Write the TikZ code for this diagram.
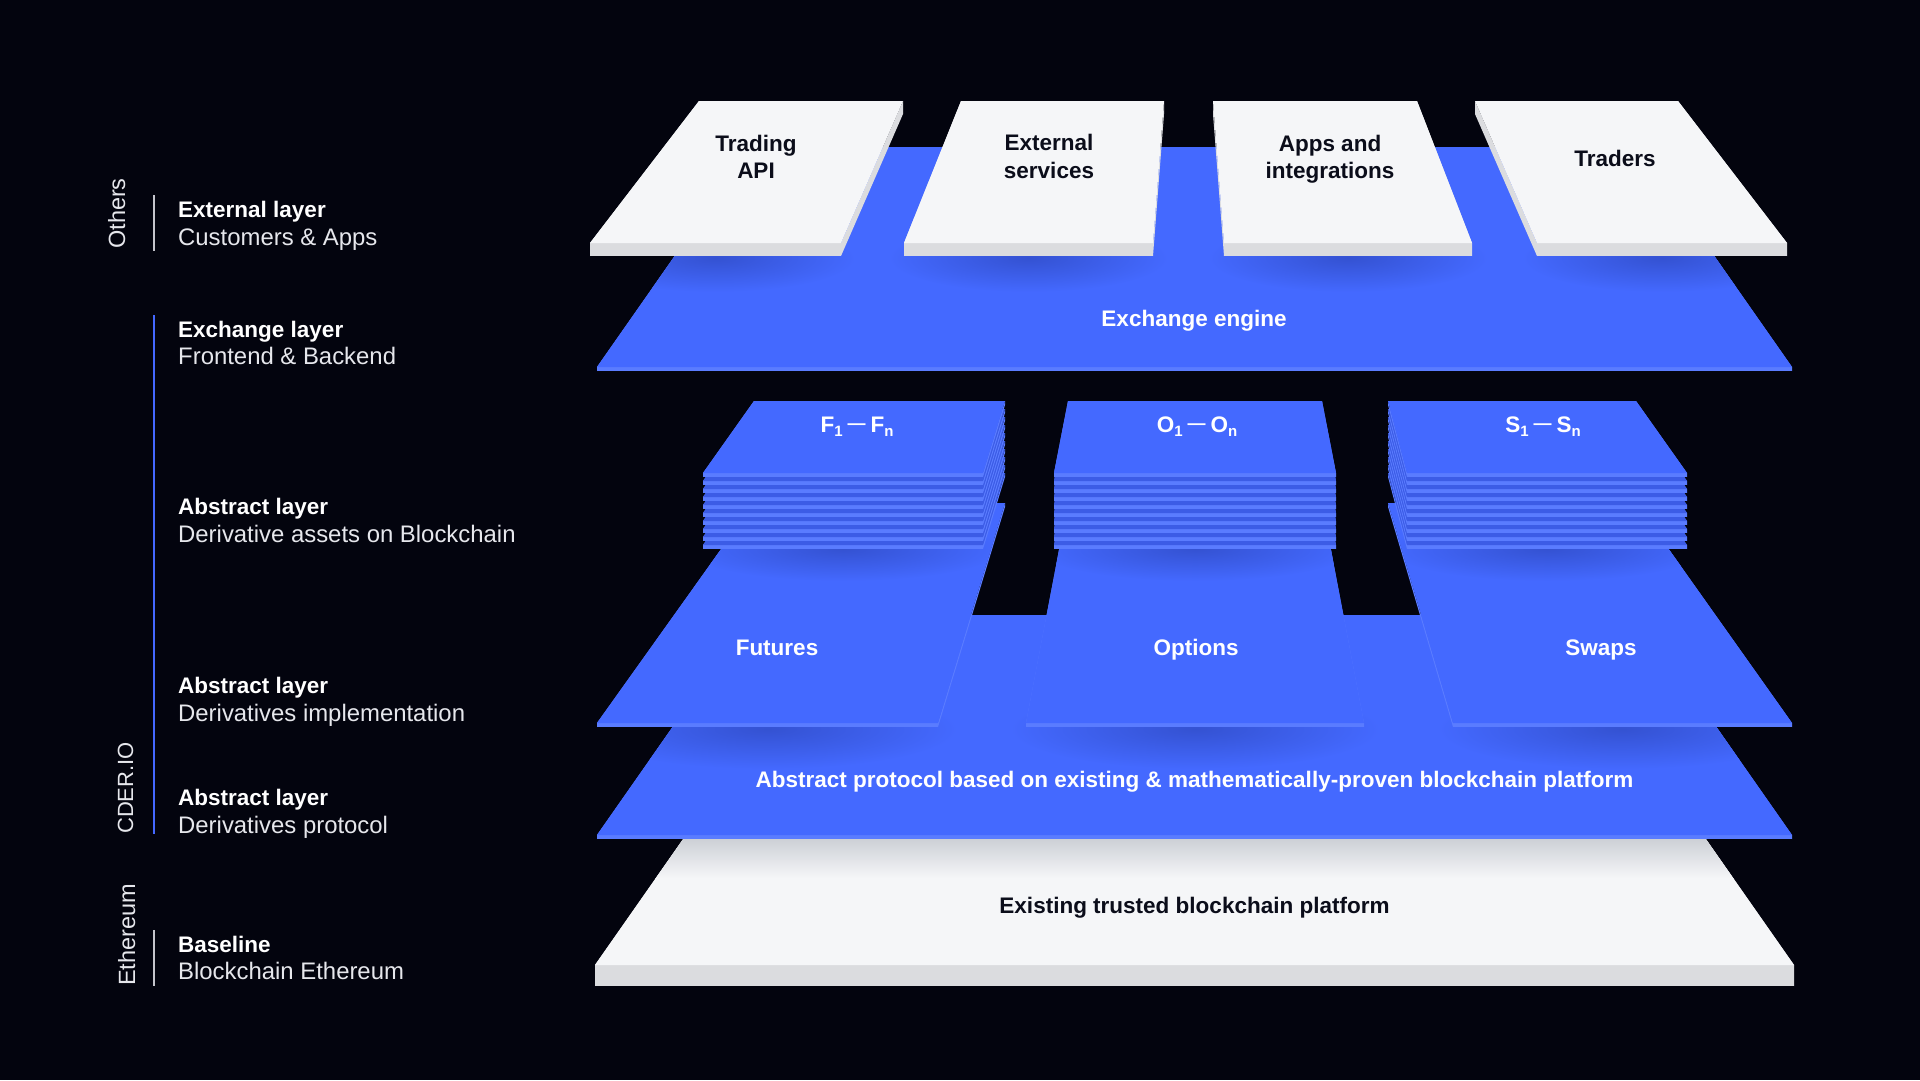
\documentclass[tikz,border=0pt]{standalone}
\usepackage{fontspec}
\setmainfont{Liberation Sans}
\definecolor{bgc}{HTML}{03040E}
\definecolor{planeblue}{HTML}{4469FF}
\definecolor{edgeblue}{HTML}{5A7CFF}
\definecolor{gapblue}{HTML}{3C5CE6}
\definecolor{shadeblue}{HTML}{3452D2}
\definecolor{cardface}{HTML}{F5F6F8}
\definecolor{cardfront}{HTML}{DBDCDF}
\definecolor{cardshade}{HTML}{CDD0D6}
\definecolor{ink}{HTML}{0B0D1A}
\definecolor{soft}{HTML}{E6E7EC}
\definecolor{linegrey}{HTML}{C4C5CC}
\definecolor{lineblue}{HTML}{4468FF}

% slab: #1 ytop, #2 ybot, #3 tlx, #4 trx, #5 brx, #6 blx, #7 thickness, #8 face colour, #9 edge colour
\newcommand\slab[9]{%
  \fill[#9] (#6,#2) -- (#5,#2) -- (#5,#2+#7) -- (#6,#2+#7) -- cycle;
  \fill[#9] (#5,#2) -- (#4,#1) -- (#4,#1+#7) -- (#5,#2+#7) -- cycle;
  \fill[#9] (#6,#2) -- (#3,#1) -- (#3,#1+#7) -- (#6,#2+#7) -- cycle;
  \fill[#8] (#3,#1) -- (#4,#1) -- (#5,#2) -- (#6,#2) -- cycle;
}
\newcommand\subidx[1]{\raisebox{-4.5pt}{\fontsize{15}{15}\selectfont #1}}
\newcommand\dashsep{\hspace{5pt}\raisebox{2.5pt}{\fontsize{18}{18}\selectfont —}\hspace{5pt}}

\tikzset{
  cardtxt/.style={font=\fontsize{22.5}{27.5}\selectfont\bfseries, text=ink, align=center, inner sep=0pt},
  bluetxt/.style={font=\fontsize{22.5}{27}\selectfont\bfseries, text=white, inner sep=0pt, anchor=base},
  greytxt/.style={font=\fontsize{22.5}{27}\selectfont\bfseries, text=ink, inner sep=0pt, anchor=base},
  headtxt/.style={font=\fontsize{22.5}{27}\selectfont\bfseries, text=white, inner sep=0pt, anchor=base west},
  subtxt/.style={font=\fontsize{23.9}{27}\selectfont, text=soft, inner sep=0pt, anchor=base west},
  sidetxt/.style={font=\fontsize{23.5}{27}\selectfont, text=soft, inner sep=0pt, rotate=90, anchor=base west},
  grpline/.style={line width=2pt},
  softshadow/.style={inner color=shadeblue, outer color=planeblue},
}

\begin{document}
\begin{tikzpicture}[x=1pt, y=-1pt]
\useasboundingbox (0,0) rectangle (1920,1080);
\fill[bgc] (0,0) rectangle (1920,1080);

% ---------- baseline white platform ----------
\slab{745}{965}{749}{1640}{1794}{595}{21}{cardface}{cardfront}
\begin{scope}
  \clip (749,745) -- (1640,745) -- (1794,965) -- (595,965) -- cycle;
  \shade[top color=cardshade, bottom color=cardface] (590,839) rectangle (1800,878);
\end{scope}

% ---------- abstract protocol plane ----------
\slab{615}{835}{751}{1638}{1792}{597}{4}{planeblue}{edgeblue}
\begin{scope}
  \clip (751,615) -- (1638,615) -- (1792,835) -- (597,835) -- cycle;
  \shade[softshadow] (767.5,729) ellipse [x radius=190, y radius=40];
  \shade[softshadow] (1195,729) ellipse [x radius=185, y radius=40];
  \shade[softshadow] (1622.5,729) ellipse [x radius=185, y radius=40];
\end{scope}

% ---------- derivative plates ----------
\slab{503}{723}{754}{1005}{938}{597}{4}{planeblue}{edgeblue}
\slab{503}{723}{1068}{1322}{1364}{1026}{4}{planeblue}{edgeblue}
\slab{503}{723}{1388}{1636}{1792}{1453}{4}{planeblue}{edgeblue}
\begin{scope}
  \clip (754,503) -- (1005,503) -- (938,723) -- (597,723) -- cycle;
  \shade[softshadow] (843,549) ellipse [x radius=160, y radius=32];
\end{scope}
\begin{scope}
  \clip (1068,503) -- (1322,503) -- (1364,723) -- (1026,723) -- cycle;
  \shade[softshadow] (1195,549) ellipse [x radius=160, y radius=32];
\end{scope}
\begin{scope}
  \clip (1388,503) -- (1636,503) -- (1792,723) -- (1453,723) -- cycle;
  \shade[softshadow] (1547,549) ellipse [x radius=160, y radius=32];
\end{scope}

% ---------- stacks of derivative assets ----------
\foreach \k in {9,8,...,1}{%
  \slab{401+8*\k}{473+8*\k}{754}{1005}{983}{703}{4}{gapblue}{edgeblue}
  \slab{401+8*\k}{473+8*\k}{1068}{1322}{1336}{1054}{4}{gapblue}{edgeblue}
  \slab{401+8*\k}{473+8*\k}{1388}{1636}{1687}{1407}{4}{gapblue}{edgeblue}
}
\slab{401}{473}{754}{1005}{983}{703}{4}{planeblue}{edgeblue}
\slab{401}{473}{1068}{1322}{1336}{1054}{4}{planeblue}{edgeblue}
\slab{401}{473}{1388}{1636}{1687}{1407}{4}{planeblue}{edgeblue}

% ---------- exchange engine plane ----------
\slab{147}{367}{751}{1638}{1792}{597}{4}{planeblue}{edgeblue}
\begin{scope}
  \clip (751,147) -- (1638,147) -- (1792,367) -- (597,367) -- cycle;
  \foreach \cx in {715.5,1028.5,1348,1662}
    \shade[softshadow] (\cx,258) ellipse [x radius=140, y radius=34];
\end{scope}

% ---------- external cards ----------
\slab{101}{243}{699}{903}{841}{590}{13}{cardface}{cardfront}
\slab{101}{243}{961}{1164}{1153}{904}{13}{cardface}{cardfront}
\slab{101}{243}{1213}{1417}{1472}{1224}{13}{cardface}{cardfront}
\slab{101}{243}{1475}{1678}{1787}{1537}{13}{cardface}{cardfront}

% ---------- labels on the diagram ----------
\node[cardtxt] (trading) at (756,156.6) {Trading\\API};
\node[cardtxt] (external) at (1049,156.6) {External\\services};
\node[cardtxt] (apps) at (1330,159) {Apps and\\integrations};
\node[cardtxt, anchor=base] (traders) at (1615,166.7) {Traders};

\node[bluetxt] (engine) at (1194,326.5) {Exchange engine};
\node[bluetxt] (fstack) at (857,432) {F\subidx{1}\dashsep F\subidx{n}};
\node[bluetxt] (ostack) at (1197,432) {O\subidx{1}\dashsep O\subidx{n}};
\node[bluetxt] (sstack) at (1543,432) {S\subidx{1}\dashsep S\subidx{n}};
\node[bluetxt] (futures) at (777,655) {Futures};
\node[bluetxt] (options) at (1196,655) {Options};
\node[bluetxt] (swaps) at (1601,655) {Swaps};
\node[bluetxt] (protocol) at (1194.5,787) {Abstract protocol based on existing \& mathematically-proven blockchain platform};
\node[greytxt] (existing) at (1194.5,913) {Existing trusted blockchain platform};

% ---------- left legend ----------
\coordinate (othersTop) at (154,195);
\coordinate (othersBot) at (154,251);
\coordinate (cderTop) at (154,315);
\coordinate (cderBot) at (154,834);
\coordinate (ethTop) at (154,930);
\coordinate (ethBot) at (154,986);
\draw[grpline, linegrey] (othersTop) -- (othersBot);
\draw[grpline, lineblue] (cderTop) -- (cderBot);
\draw[grpline, linegrey] (ethTop) -- (ethBot);

\node[sidetxt] (others) at (125,249) {Others};
\node[sidetxt, font=\fontsize{22}{26}\selectfont] (cder) at (133,834) {CDER.IO};
\node[sidetxt] (eth) at (135,986) {Ethereum};

\node[headtxt] (h1) at (178,217) {External layer};
\node[subtxt] (s1) at (178,245) {Customers \& Apps};
\node[headtxt] (h2) at (178,337) {Exchange layer};
\node[subtxt] (s2) at (178,364) {Frontend \& Backend};
\node[headtxt] (h3) at (178,514) {Abstract layer};
\node[subtxt] (s3) at (178,542) {Derivative assets on Blockchain};
\node[headtxt] (h4) at (178,693) {Abstract layer};
\node[subtxt] (s4) at (178,721) {Derivatives implementation};
\node[headtxt] (h5) at (178,805) {Abstract layer};
\node[subtxt] (s5) at (178,833) {Derivatives protocol};
\node[headtxt] (h6) at (178,952) {Baseline};
\node[subtxt] (s6) at (178,979) {Blockchain Ethereum};
\end{tikzpicture}
\end{document}
